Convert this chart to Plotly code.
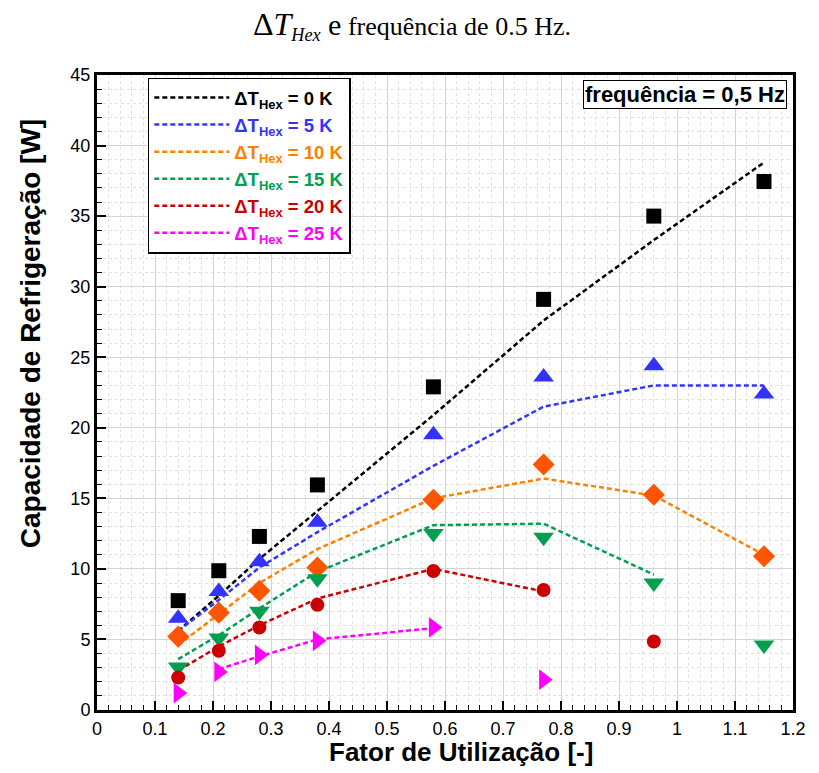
import plotly.graph_objects as go

# ---------------- data ----------------
x_all = [0.14, 0.21, 0.28, 0.38, 0.58, 0.77, 0.96, 1.15]

# experimental points (markers)
exp_0K = [7.75, 9.87, 12.3, 15.95, 22.9, 29.1, 35.0, 37.45]
exp_5K = [6.5, 8.4, 10.5, 13.3, 19.5, 23.6, 24.4, 22.4]
exp_10K = [5.2, 6.9, 8.45, 10.1, 14.9, 17.4, 15.25, 10.9]
exp_15K = [3.05, 5.1, 7.0, 9.3, 12.5, 12.25, 9.0, 4.6]
exp_20K = [2.3, 4.2, 5.85, 7.45, 9.85, 8.5, 4.85]
exp_25K = [1.2, 2.7, 3.9, 4.9, 5.85, 2.15]

# model curves (dashed lines)
mod_0K = [5.6, 8.1, 10.7, 14.1, 20.9, 27.6, 33.3, 38.8]
mod_5K = [5.6, 7.8, 10.1, 12.6, 17.3, 21.5, 23.0, 23.0]
mod_10K = [4.6, 6.8, 9.0, 11.4, 15.0, 16.4, 15.2, 11.0]
mod_15K = [3.6, 5.3, 7.2, 9.8, 13.1, 13.2, 9.6]
mod_20K = [2.8, 4.5, 6.0, 7.9, 10.0, 8.4]
x_mod_25K = [0.21, 0.28, 0.38, 0.58]
mod_25K = [2.9, 3.8, 5.0, 5.8]

labels = ["0 K", "5 K", "10 K", "15 K", "20 K", "25 K"]
line_colors = ["#000000", "#3333ff", "#ff8000", "#00a050", "#cc0000", "#ff00ff"]
marker_colors = ["#000000", "#3333ff", "#ff5500", "#00a050", "#cc0000", "#ff00ff"]
symbols = ["square", "triangle-up", "diamond", "triangle-down", "circle", "triangle-right"]
msizes = [15, 18, 17, 18, 14, 18]

x_ticks = [0, 0.1, 0.2, 0.3, 0.4, 0.5, 0.6, 0.7, 0.8, 0.9, 1, 1.1, 1.2]
x_tick_text = ["0", "0.1", "0.2", "0.3", "0.4", "0.5", "0.6", "0.7", "0.8", "0.9", "1", "1.1", "1.2"]
y_ticks = [0, 5, 10, 15, 20, 25, 30, 35, 40, 45]

exps = [exp_0K, exp_5K, exp_10K, exp_15K, exp_20K, exp_25K]
mods = [mod_0K, mod_5K, mod_10K, mod_15K, mod_20K, mod_25K]
mod_x = [x_all, x_all, x_all, x_all[:7], x_all[:6], x_mod_25K]

fig = go.Figure()

# dashed model lines (in legend)
for i in range(6):
    name = ('<span style="color:%s">ΔT<sub>Hex</sub> = %s</span>' % (line_colors[i], labels[i]))
    fig.add_trace(go.Scatter(
        x=mod_x[i], y=mods[i], mode="lines", name=name,
        line=dict(color=line_colors[i], width=2.5, dash="5px,3px"),
    ))

# markers
for i in range(6):
    fig.add_trace(go.Scatter(
        x=x_all[:len(exps[i])], y=exps[i], mode="markers", showlegend=False,
        marker=dict(symbol=symbols[i], size=msizes[i], color=marker_colors[i],
                    line=dict(width=0)),
    ))

axis_font = dict(family="Liberation Sans, Arial", size=18, color="black")
xtitle_font = dict(family="Liberation Sans, Arial", size=26, color="black", weight="bold")
ytitle_font = dict(family="Liberation Sans, Arial", size=28, color="black", weight="bold")

fig.update_layout(
    width=819, height=773,
    margin=dict(l=97, r=26, t=75, b=63),
    paper_bgcolor="white", plot_bgcolor="white",
    title=dict(
        text='<span style="font-size:32px">Δ<i>T</i></span><sub><i>Hex</i></sub>'
             '<span style="font-size:30px"> e</span> frequência de 0.5 Hz.',
        x=0.503, xanchor="center", y=0.966, yanchor="middle",
        font=dict(family="Liberation Serif, Times New Roman", size=26, color="black"),
    ),
    showlegend=True,
    legend=dict(
        x=0.073, y=0.996, xanchor="left", yanchor="top",
        bgcolor="white", bordercolor="black", borderwidth=1.5,
        font=dict(family="Liberation Sans, Arial", size=18.5, color="black", weight="bold"),
        itemwidth=75, tracegroupgap=0,
    ),
    xaxis=dict(
        range=[0, 1.2], tickvals=x_ticks, ticktext=x_tick_text,
        showline=True, linecolor="black", linewidth=3, mirror=True,
        ticks="inside", ticklen=9, tickwidth=2, tickcolor="black",
        showgrid=True, gridcolor="#d4d4d4", gridwidth=1, zeroline=False,
        minor=dict(dtick=0.02, ticks="inside", ticklen=5, tickcolor="black", tickwidth=1,
                   showgrid=True, gridcolor="#e0e0e0", griddash="dot", gridwidth=1),
        tickfont=axis_font,
    ),
    yaxis=dict(
        range=[0, 45], tickvals=y_ticks,
        showline=True, linecolor="black", linewidth=3, mirror=True,
        ticks="inside", ticklen=9, tickwidth=2, tickcolor="black",
        showgrid=True, gridcolor="#d4d4d4", gridwidth=1, zeroline=False,
        minor=dict(dtick=1, ticks="inside", ticklen=5, tickcolor="black", tickwidth=1,
                   showgrid=True, gridcolor="#e0e0e0", griddash="dot", gridwidth=1),
        tickfont=axis_font,
    ),
    annotations=[
        dict(
            x=0.992, y=0.992, xref="paper", yref="paper", xanchor="right", yanchor="top",
            text="frequência = 0,5 Hz", showarrow=False,
            font=dict(family="Liberation Sans, Arial", size=22, color="black", weight="bold"),
            bgcolor="white", bordercolor="black", borderwidth=1, borderpad=1,
        ),
        dict(
            x=0.523, y=-0.0395, xref="paper", yref="paper", xanchor="center", yanchor="top",
            text="Fator de Utilização [-]", showarrow=False, font=xtitle_font,
        ),
        dict(
            x=-0.096, y=0.592, xref="paper", yref="paper", xanchor="center", yanchor="middle",
            text="Capacidade de Refrigeração [W]", showarrow=False, textangle=-90,
            font=ytitle_font,
        ),
    ],
)

fig.write_html("out.html")
